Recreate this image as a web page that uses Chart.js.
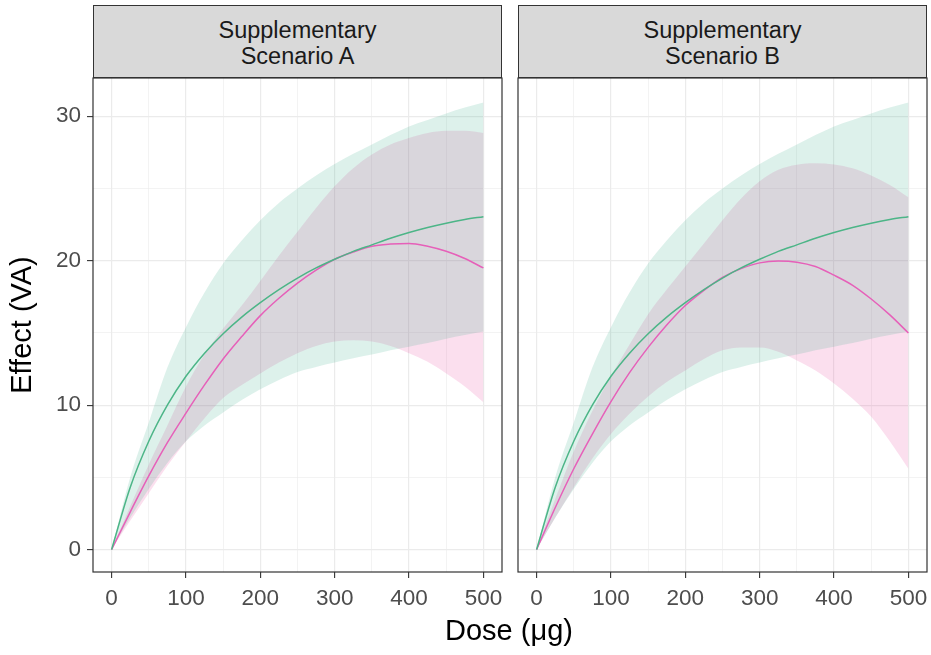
<!DOCTYPE html>
<html>
<head>
<meta charset="utf-8">
<script src="https://cdn.jsdelivr.net/npm/chart.js@4.4.0/dist/chart.umd.min.js"></script>
<style>
    body {
        margin: 0;
        background: #fff;
        width: 931px;
        height: 655px;
        position: relative;
        overflow: hidden;
        font-family: "Liberation Sans", Arial, sans-serif;
    }
    canvas { position: absolute; top: 70px; }
    #chartA { left: 0; }
    #chartB { left: 510px; }
    .strip {
        position: absolute;
        top: 5px;
        width: 409px;
        height: 73px;
        box-sizing: border-box;
        border: 1px solid #333;
        background: #d9d9d9;
        color: #1a1a1a;
        font-size: 23.5px;
        line-height: 26px;
        text-align: center;
        padding-top: 11px;
    }
    #xTitle {
        position: absolute;
        left: 0;
        width: 1018px;
        top: 614px;
        font-size: 29px;
        line-height: 32px;
        text-align: center;
        color: #000;
    }
</style>
</head>
<body>
<div class="strip" style="left:93px">Supplementary<br>Scenario A</div>
<div class="strip" style="left:518px">Supplementary<br>Scenario B</div>
<canvas id="chartA" width="510" height="550"></canvas>
<canvas id="chartB" width="421" height="550"></canvas>
<div id="xTitle">Dose (μg)</div>
<script>
// dose grid the curves were read at
const doses = [0, 25, 50, 75, 100, 125, 150, 175, 200, 225, 250, 275, 300, 325, 350, 375, 400, 425, 450, 475, 500];

// green model (same in both panels)
const greenMean  = [0, 4.3, 7.5, 10.0, 12.0, 13.6, 14.95, 16.1, 17.1, 18.0, 18.8, 19.5, 20.1, 20.65, 21.1, 21.55, 21.95, 22.3, 22.6, 22.85, 23.05];
const greenUpper = [0, 5.0, 8.8, 12.6, 15.4, 17.8, 19.8, 21.4, 22.8, 24.0, 25.0, 25.9, 26.7, 27.4, 28.05, 28.7, 29.3, 29.75, 30.2, 30.6, 30.95];
const greenLower = [0, 2.2, 4.2, 6.0, 7.5, 8.6, 9.5, 10.35, 11.1, 11.75, 12.3, 12.65, 12.95, 13.25, 13.5, 13.8, 14.05, 14.3, 14.6, 14.85, 15.1];

// pink model, scenario A
const pinkMeanA  = [0, 2.6, 5.1, 7.4, 9.45, 11.4, 13.2, 14.75, 16.2, 17.4, 18.45, 19.35, 20.1, 20.6, 21.0, 21.15, 21.2, 21.0, 20.65, 20.15, 19.5];
const pinkUpperA = [0, 3.0, 5.9, 8.6, 11.3, 13.5, 15.3, 16.9, 18.6, 20.35, 22.0, 23.65, 25.15, 26.4, 27.35, 28.05, 28.5, 28.85, 29.0, 29.0, 28.85];
const pinkLowerA = [0, 2.0, 3.9, 5.8, 7.5, 9.1, 10.5, 11.4, 12.2, 12.95, 13.6, 14.1, 14.4, 14.5, 14.4, 14.1, 13.6, 13.0, 12.2, 11.3, 10.2];

// pink model, scenario B
const pinkMeanB  = [0, 2.9, 5.6, 8.0, 10.25, 12.25, 14.0, 15.55, 16.9, 17.95, 18.85, 19.45, 19.85, 19.98, 19.9, 19.6, 19.0, 18.3, 17.35, 16.25, 15.0];
const pinkUpperB = [0, 3.5, 6.8, 9.6, 12.0, 14.2, 16.3, 18.0, 19.6, 21.2, 22.8, 24.3, 25.5, 26.3, 26.65, 26.75, 26.67, 26.4, 25.9, 25.25, 24.4];
const pinkLowerB = [0, 2.2, 4.3, 6.3, 8.0, 9.4, 10.6, 11.6, 12.4, 13.2, 13.8, 14.0, 14.0, 13.7, 13.1, 12.4, 11.5, 10.45, 9.2, 7.5, 5.6];

// axis ticks (majors get labels, minors are grid only)
const xTicks = [0, 50, 100, 150, 200, 250, 300, 350, 400, 450, 500];
const yTicks = [0, 5, 10, 15, 20, 25, 30];

const GREEN_LINE = '#4cb587';
const PINK_LINE = '#e660b9';
const GREEN_FILL = 'rgba(27, 158, 119, 0.15)';
const PINK_FILL = 'rgba(231, 41, 138, 0.15)';
const FONT = '"Liberation Sans", Arial, sans-serif';

function pts(arr) {
    return doses.map((d, i) => ({ x: d, y: arr[i] }));
}

function ribbon(arr, fill, color) {
    return {
        data: pts(arr),
        fill: fill,
        backgroundColor: color,
        borderWidth: 0,
        pointRadius: 0,
        cubicInterpolationMode: 'monotone',
        order: 2
    };
}

function meanLine(arr, color) {
    return {
        data: pts(arr),
        fill: false,
        borderColor: color,
        borderWidth: 1.5,
        pointRadius: 0,
        cubicInterpolationMode: 'monotone',
        order: 1
    };
}

// no extra room for half labels at the axis ends
function noPadding(scale) {
    scale.paddingTop = 0;
    scale.paddingBottom = 0;
    scale.paddingLeft = 0;
    scale.paddingRight = 0;
}

// panel border drawn around the plot area
const panelBorder = {
    id: 'panelBorder',
    afterDraw(chart) {
        const { ctx, chartArea: a } = chart;
        ctx.save();
        ctx.strokeStyle = '#333333';
        ctx.lineWidth = 1.2;
        ctx.strokeRect(a.left, a.top, a.right - a.left, a.bottom - a.top);
        ctx.restore();
    }
};

function makePanel(canvasId, upper, lower, mean, showY) {
    const ctx = document.getElementById(canvasId).getContext('2d');
    return new Chart(ctx, {
        type: 'line',
        data: {
            datasets: [
                ribbon(greenUpper, '+1', GREEN_FILL),
                ribbon(greenLower, false, GREEN_FILL),
                ribbon(upper, '+1', PINK_FILL),
                ribbon(lower, false, PINK_FILL),
                meanLine(greenMean, GREEN_LINE),
                meanLine(mean, PINK_LINE)
            ]
        },
        options: {
            responsive: false,
            animation: false,
            devicePixelRatio: 1,
            layout: { padding: showY ? { left: 0, right: 8, top: 8, bottom: 0 } : { left: 8, right: 4, top: 8, bottom: 0 } },
            plugins: { legend: { display: false }, tooltip: { enabled: false } },
            scales: {
                x: {
                    type: 'linear',
                    min: -25,
                    max: 525,
                    afterBuildTicks(scale) { scale.ticks = xTicks.map(v => ({ value: v })); },
                    afterFit(scale) { scale.height = 48; noPadding(scale); },
                    border: { display: false },
                    grid: {
                        color: '#ebebeb',
                        lineWidth: c => (c.tick && c.tick.value % 100 === 0) ? 1.2 : 0.6,
                        tickColor: c => (c.tick && c.tick.value % 100 === 0) ? '#333333' : 'rgba(0,0,0,0)',
                        tickLength: 6,
                        tickWidth: 1.1
                    },
                    ticks: {
                        autoSkip: false,
                        maxRotation: 0,
                        minRotation: 0,
                        padding: 7,
                        color: '#4d4d4d',
                        font: { family: FONT, size: 22.5 },
                        callback: v => v % 100 === 0 ? String(v) : ''
                    }
                },
                y: {
                    type: 'linear',
                    min: -1.55,
                    max: 32.65,
                    afterBuildTicks(scale) { scale.ticks = yTicks.map(v => ({ value: v })); },
                    afterFit(scale) { scale.width = showY ? 93 : 0; noPadding(scale); },
                    border: { display: false },
                    grid: {
                        color: '#ebebeb',
                        lineWidth: c => (c.tick && c.tick.value % 10 === 0) ? 1.2 : 0.6,
                        tickColor: c => (c.tick && c.tick.value % 10 === 0) ? '#333333' : 'rgba(0,0,0,0)',
                        tickLength: 6,
                        tickWidth: 1.1,
                        drawTicks: showY
                    },
                    ticks: {
                        display: showY,
                        autoSkip: false,
                        padding: 6,
                        color: '#4d4d4d',
                        font: { family: FONT, size: 22.5 },
                        callback: v => v % 10 === 0 ? String(v) : ''
                    },
                    title: {
                        display: showY,
                        text: 'Effect (VA)',
                        color: '#000',
                        padding: { top: 6, bottom: 0 },
                        font: { family: FONT, size: 29 }
                    }
                }
            }
        },
        plugins: [panelBorder]
    });
}

makePanel('chartA', pinkUpperA, pinkLowerA, pinkMeanA, true);
makePanel('chartB', pinkUpperB, pinkLowerB, pinkMeanB, false);
</script>
</body>
</html>
